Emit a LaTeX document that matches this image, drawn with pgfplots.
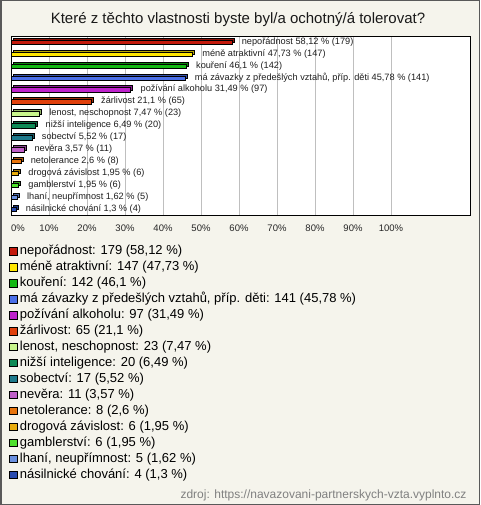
\documentclass[border=0pt]{standalone}
\usepackage{pgfplots}
\pgfplotsset{compat=1.18}
\usepackage{fontspec}
\setmainfont{Liberation Sans}
\definecolor{bg}{HTML}{F5F4EC}
\definecolor{c1}{HTML}{C41A0C}
\definecolor{c2}{HTML}{FFE600}
\definecolor{c3}{HTML}{14B814}
\definecolor{c4}{HTML}{4A6FE8}
\definecolor{c5}{HTML}{BE22CC}
\definecolor{c6}{HTML}{E0400C}
\definecolor{c7}{HTML}{C8F58C}
\definecolor{c8}{HTML}{0E8A56}
\definecolor{c9}{HTML}{1E7A8C}
\definecolor{c10}{HTML}{C060C8}
\definecolor{c11}{HTML}{E8740C}
\definecolor{c12}{HTML}{E8AC0C}
\definecolor{c13}{HTML}{4EE02E}
\definecolor{c14}{HTML}{6A90E0}
\definecolor{c15}{HTML}{2A4CB0}
\newcommand{\cat}[4]{%
  \addplot[forget plot, fill=#3!72!black, draw=black, line width=0.7pt, xshift=2pt, yshift=2pt] coordinates {(#2,#1)};
  \addplot[forget plot, fill=#3, draw=black, line width=0.7pt,
    nodes near coords={#4},
    every node near coord/.append style={font=\fontsize{9.2}{11}\selectfont, text=black!88, xshift=6.3pt, yshift=0.6pt}] coordinates {(#2,#1)};
}
\begin{document}
\begin{tikzpicture}
\useasboundingbox (0pt,0pt) rectangle (480pt,-505pt);
\fill[bg] (0pt,0pt) rectangle (480pt,-505pt);
\draw[draw=black!65, line width=1.5pt] (0.75pt,-0.75pt) rectangle (479.25pt,-504.25pt);
\node[font=\fontsize{15}{18}\selectfont, text=black!90] at (238pt,-20pt) {Které z těchto vlastnosti byste byl/a ochotný/á tolerovat?};
\begin{axis}[
  at={(11pt,-215pt)}, anchor=south west,
  scale only axis, width=459pt, height=178.5pt,
  xbar, bar width=4.4pt, bar shift=0pt,
  xmin=0, xmax=120.79, ymin=-0.48, ymax=14.49,
  axis background/.style={fill=white},
  axis line style={black, line width=0.8pt},
  xtick={0,10,...,100},
  xticklabels={\hphantom{0\%}0\%,10\%,20\%,30\%,40\%,50\%,60\%,70\%,80\%,90\%,100\%},
  ytick=\empty,
  xmajorgrids, grid style={black!25, line width=0.8pt},
  major tick length=0pt,
  xticklabel style={font=\fontsize{9.5}{11}\selectfont, text=black!85, yshift=-6pt},
  legend style={at={(-0.0044,-0.1695)}, anchor=north west, draw=none, fill=none,
    inner sep=0pt, row sep=3.45pt, font=\fontsize{13}{15}\selectfont,
    nodes={inner xsep=2.6pt, inner ysep=0pt, text height=9.5pt, text depth=3pt, text=black}},
  legend cell align=left,
  legend image code/.code={\draw[#1, draw=black, line width=0.7pt] (0pt,-3.4pt) rectangle (7.4pt,4pt);},
]
\cat{14}{58.12}{c1}{nepořádnost 58,12 \% (179)}
\cat{13}{47.73}{c2}{méně atraktivní 47,73 \% (147)}
\cat{12}{46.1}{c3}{kouření 46,1 \% (142)}
\cat{11}{45.78}{c4}{má závazky z předešlých vztahů, příp. děti 45,78 \% (141)}
\cat{10}{31.49}{c5}{požívání alkoholu 31,49 \% (97)}
\cat{9}{21.1}{c6}{žárlivost 21,1 \% (65)}
\cat{8}{7.47}{c7}{lenost, neschopnost 7,47 \% (23)}
\cat{7}{6.49}{c8}{nižší inteligence 6,49 \% (20)}
\cat{6}{5.52}{c9}{sobectví 5,52 \% (17)}
\cat{5}{3.57}{c10}{nevěra 3,57 \% (11)}
\cat{4}{2.6}{c11}{netolerance 2,6 \% (8)}
\cat{3}{1.95}{c12}{drogová závislost 1,95 \% (6)}
\cat{2}{1.95}{c13}{gamblerství 1,95 \% (6)}
\cat{1}{1.62}{c14}{lhaní, neupřímnost 1,62 \% (5)}
\cat{0}{1.3}{c15}{násilnické chování 1,3 \% (4)}
\addlegendimage{fill=c1}\addlegendentry{nepořádnost: 179 (58,12 \%)}
\addlegendimage{fill=c2}\addlegendentry{méně atraktivní: 147 (47,73 \%)}
\addlegendimage{fill=c3}\addlegendentry{kouření: 142 (46,1 \%)}
\addlegendimage{fill=c4}\addlegendentry{má závazky z předešlých vztahů, příp. děti: 141 (45,78 \%)}
\addlegendimage{fill=c5}\addlegendentry{požívání alkoholu: 97 (31,49 \%)}
\addlegendimage{fill=c6}\addlegendentry{žárlivost: 65 (21,1 \%)}
\addlegendimage{fill=c7}\addlegendentry{lenost, neschopnost: 23 (7,47 \%)}
\addlegendimage{fill=c8}\addlegendentry{nižší inteligence: 20 (6,49 \%)}
\addlegendimage{fill=c9}\addlegendentry{sobectví: 17 (5,52 \%)}
\addlegendimage{fill=c10}\addlegendentry{nevěra: 11 (3,57 \%)}
\addlegendimage{fill=c11}\addlegendentry{netolerance: 8 (2,6 \%)}
\addlegendimage{fill=c12}\addlegendentry{drogová závislost: 6 (1,95 \%)}
\addlegendimage{fill=c13}\addlegendentry{gamblerství: 6 (1,95 \%)}
\addlegendimage{fill=c14}\addlegendentry{lhaní, neupřímnost: 5 (1,62 \%)}
\addlegendimage{fill=c15}\addlegendentry{násilnické chování: 4 (1,3 \%)}
\end{axis}
\node[anchor=base east, font=\fontsize{12}{14}\selectfont, text=black!50] at (470pt,-498pt) {zdroj: https://navazovani-partnerskych-vzta.vyplnto.cz};
\end{tikzpicture}
\end{document}
